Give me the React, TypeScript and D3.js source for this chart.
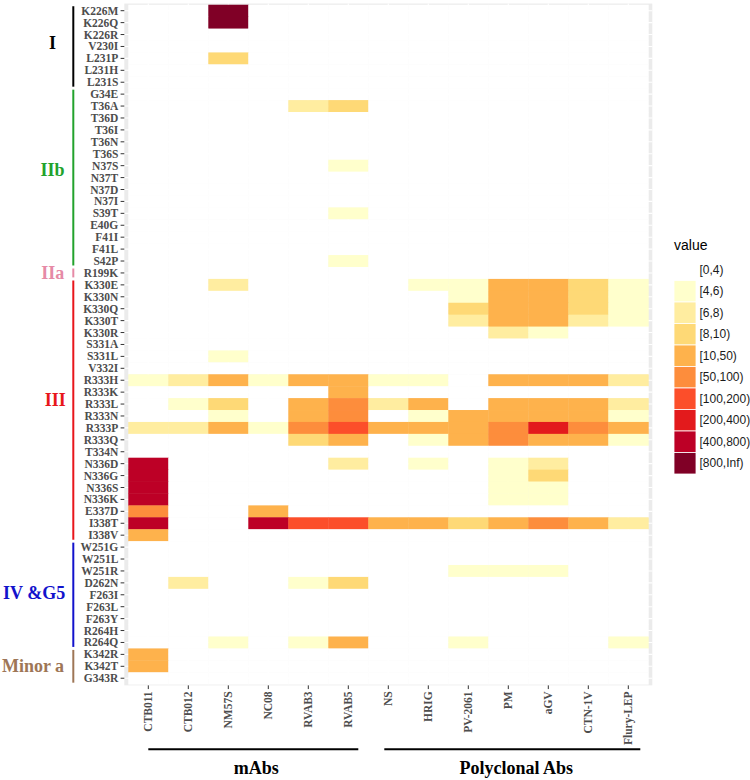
import React from 'react';
import * as d3 from 'd3';

// ---------- DATA ----------
const rows = [
  'K226M','K226Q','K226R','V230I','L231P','L231H','L231S',
  'G34E','T36A','T36D','T36I','T36N','T36S','N37S','N37T','N37D','N37I','S39T','E40G','F41I','F41L','S42P',
  'R199K',
  'K330E','K330N','K330Q','K330T','K330R','S331A','S331L','V332I','R333H','R333K','R333L','R333N','R333P','R333Q','T334N','N336D','N336G','N336S','N336K','E337D','I338T','I338V',
  'W251G','W251L','W251R','D262N','F263I','F263L','F263Y','R264H','R264Q',
  'K342R','K342T','G343R',
];

const columns = ['CTB011','CTB012','NM57S','NC08','RVAB3','RVAB5','NS','HRIG','PV-2061','PM','aGV','CTN-1V','Flury-LEP'];

const groupNames = ['I','IIb','IIa','III','IV &G5','Minor a'];
const groupSizes = [7, 15, 1, 22, 9, 3];

const columnGroupNames = ['mAbs','Polyclonal Abs'];

// legend bins
const binThresholds = [4, 6, 8, 10, 50, 100, 200, 400, 800];
const binLabels = ['[0,4)','[4,6)','[6,8)','[8,10)','[10,50)','[50,100)','[100,200)','[200,400)','[400,800)','[800,Inf)'];

// non-trivial cells (everything else is in [0,4))
const cells: [string, string, number][] = [
  ['K226M','NM57S',1000],['K226Q','NM57S',1000],['L231P','NM57S',9],
  ['T36A','RVAB3',7],['T36A','RVAB5',9],['N37S','RVAB5',5],['S39T','RVAB5',5],['S42P','RVAB5',5],
  ['K330E','NM57S',7],['K330E','HRIG',5],['K330E','PV-2061',5],['K330E','PM',25],['K330E','aGV',25],['K330E','CTN-1V',9],['K330E','Flury-LEP',5],
  ['K330N','PV-2061',5],['K330N','PM',25],['K330N','aGV',25],['K330N','CTN-1V',9],['K330N','Flury-LEP',5],
  ['K330Q','PV-2061',9],['K330Q','PM',25],['K330Q','aGV',25],['K330Q','CTN-1V',9],['K330Q','Flury-LEP',5],
  ['K330T','PV-2061',7],['K330T','PM',25],['K330T','aGV',25],['K330T','CTN-1V',7],['K330T','Flury-LEP',5],
  ['K330R','PM',7],['K330R','aGV',5],
  ['S331L','NM57S',5],
  ['R333H','CTB011',5],['R333H','CTB012',7],['R333H','NM57S',25],['R333H','NC08',5],['R333H','RVAB3',25],['R333H','RVAB5',25],['R333H','NS',5],['R333H','HRIG',5],['R333H','PM',25],['R333H','aGV',25],['R333H','CTN-1V',25],['R333H','Flury-LEP',7],
  ['R333K','RVAB5',25],
  ['R333L','CTB012',5],['R333L','NM57S',9],['R333L','RVAB3',25],['R333L','RVAB5',75],['R333L','NS',7],['R333L','HRIG',25],['R333L','PM',25],['R333L','aGV',25],['R333L','CTN-1V',25],['R333L','Flury-LEP',7],
  ['R333N','NM57S',5],['R333N','RVAB3',25],['R333N','RVAB5',75],['R333N','HRIG',5],['R333N','PV-2061',25],['R333N','PM',25],['R333N','aGV',25],['R333N','CTN-1V',25],['R333N','Flury-LEP',5],
  ['R333P','CTB011',7],['R333P','CTB012',7],['R333P','NM57S',25],['R333P','NC08',5],['R333P','RVAB3',75],['R333P','RVAB5',150],['R333P','NS',25],['R333P','HRIG',25],['R333P','PV-2061',25],['R333P','PM',75],['R333P','aGV',300],['R333P','CTN-1V',75],['R333P','Flury-LEP',25],
  ['R333Q','RVAB3',9],['R333Q','RVAB5',25],['R333Q','HRIG',5],['R333Q','PV-2061',25],['R333Q','PM',75],['R333Q','aGV',25],['R333Q','CTN-1V',25],['R333Q','Flury-LEP',5],
  ['N336D','CTB011',600],['N336D','RVAB5',7],['N336D','HRIG',5],['N336D','PM',5],['N336D','aGV',7],
  ['N336G','CTB011',600],['N336G','PM',5],['N336G','aGV',9],
  ['N336S','CTB011',600],['N336S','PM',5],['N336S','aGV',5],
  ['N336K','CTB011',600],['N336K','PM',5],['N336K','aGV',5],
  ['E337D','CTB011',75],['E337D','NC08',25],
  ['I338T','CTB011',600],['I338T','NC08',600],['I338T','RVAB3',150],['I338T','RVAB5',150],['I338T','NS',25],['I338T','HRIG',25],['I338T','PV-2061',9],['I338T','PM',25],['I338T','aGV',75],['I338T','CTN-1V',25],['I338T','Flury-LEP',7],
  ['I338V','CTB011',25],
  ['W251R','PV-2061',5],['W251R','PM',5],['W251R','aGV',5],
  ['D262N','CTB012',7],['D262N','RVAB3',5],['D262N','RVAB5',9],
  ['R264Q','NM57S',5],['R264Q','RVAB3',5],['R264Q','RVAB5',25],['R264Q','PV-2061',5],['R264Q','Flury-LEP',5],
  ['K342R','CTB011',25],['K342T','CTB011',25],
];
const belowRangeValue = 1;

// ---------- STYLE ----------
const binColors = ['#FFFFFF','#FFFFCC','#FFEDA0','#FED976','#FEB24C','#FD8D3C','#FC4E2A','#E31A1C','#BD0026','#800026'];
const groupColors = ['#000000','#22A22C','#E68AA6','#E8151B','#1212CC','#9E7656'];
const groupLabelRow = [2.73, 13.36, 22, 32.66, 48.85, 55];
const groupLabelX = [52.5, 52.5, 52.8, 55.3, 34.2, 33];
const columnGroupSpan: [number, number][] = [[1, 6.25], [6.9, 13.3]];
const columnGroupLabelAt = [3.7, 10.2];

const W = 750, H = 780;
const SERIF = '"Liberation Serif", "Times New Roman", serif';
const SANS = '"Liberation Sans", Arial, sans-serif';

export default function App() {
  const colLeft = 128.3, colW = 40;
  const rowTop = 4.74, rowH = 11.92;
  const x = d3.scaleBand<string>().domain(columns).range([colLeft, colLeft + colW * columns.length]);
  const y = d3.scaleBand<string>().domain(rows).range([rowTop, rowTop + rowH * rows.length]);
  const color = d3.scaleThreshold<number, string>().domain(binThresholds).range(binColors);
  const xc = d3.scaleLinear().domain([1, columns.length]).range([x(columns[0])! + colW / 2, x(columns[columns.length - 1])! + colW / 2]);
  const yr = (i: number) => rowTop + rowH * (i + 0.5);

  const lookup = new Map<string, number>();
  cells.forEach(([r, c, v]) => lookup.set(r + '|' + c, v));

  const [px0, px1] = [x.range()[0] - colW * 0.1, x.range()[1] + colW * 0.1];
  const [py0, py1] = [y.range()[0] - rowH * 0.1, y.range()[1] + rowH * 0.1];

  // groups
  let start = 0;
  const groups = groupNames.map((name, i) => {
    const g = { name, start, end: start + groupSizes[i] - 1, color: groupColors[i], i };
    start += groupSizes[i];
    return g;
  });

  const legendX = 674, legendTop = 259, keyW = 22, keyH = 21.5;

  return (
    <svg width={W} height={H} style={{ position: 'absolute', left: 0, top: 0, background: '#fff' }}>
      <rect x={0} y={0} width={W} height={H} fill="#fff" />
      {/* panel */}
      <rect x={px0} y={py0} width={px1 - px0} height={py1 - py0} fill="#EBEBEB" />
      {columns.map(c => (
        <line key={'gx' + c} x1={x(c)! + colW / 2} x2={x(c)! + colW / 2} y1={py0} y2={py1} stroke="#fff" strokeWidth={1.1} />
      ))}
      {rows.map(r => (
        <line key={'gy' + r} x1={px0} x2={px1} y1={y(r)! + rowH / 2} y2={y(r)! + rowH / 2} stroke="#fff" strokeWidth={1.1} />
      ))}
      {/* tiles */}
      {rows.map(r => columns.map(c => {
        const v = lookup.get(r + '|' + c) ?? belowRangeValue;
        return (
          <rect key={r + c} x={x(c)!} y={y(r)!} width={colW + 0.4} height={rowH + 0.4} fill={color(v)} />
        );
      }))}
      {/* y axis */}
      {rows.map(r => (
        <g key={'yl' + r}>
          <line x1={px0 - 3.7} x2={px0} y1={y(r)! + rowH / 2} y2={y(r)! + rowH / 2} stroke="#333" strokeWidth={1} />
          <text x={px0 - 6} y={y(r)! + rowH / 2} textAnchor="end" dominantBaseline="central"
            fontFamily={SERIF} fontWeight="bold" fontSize={11.5} fill="#4D4D4D">{r}</text>
        </g>
      ))}
      {/* x axis */}
      {columns.map(c => {
        const cx = x(c)! + colW / 2;
        return (
          <g key={'xl' + c}>
            <line x1={cx} x2={cx} y1={py1} y2={py1 + 3.7} stroke="#333" strokeWidth={1} />
            <text transform={`translate(${cx},${py1 + 6}) rotate(-90)`} textAnchor="end" dominantBaseline="central"
              fontFamily={SERIF} fontWeight="bold" fontSize={11.5} fill="#4D4D4D">{c}</text>
          </g>
        );
      })}
      {/* group brackets (rows) */}
      {groups.map(g => (
        <g key={'grp' + g.name}>
          <line x1={73.3} x2={73.3} y1={y(rows[g.start])! + 1.5} y2={y(rows[g.end])! + rowH - 1.5} stroke={g.color} strokeWidth={2} />
          <text x={groupLabelX[g.i]} y={yr(groupLabelRow[g.i])} textAnchor="middle" dominantBaseline="central"
            fontFamily={SERIF} fontWeight="bold" fontSize={18} fill={g.color}>{g.name}</text>
        </g>
      ))}
      {/* column group brackets */}
      {columnGroupNames.map((n, i) => (
        <g key={'cg' + n}>
          <line x1={xc(columnGroupSpan[i][0])} x2={xc(columnGroupSpan[i][1])} y1={749.3} y2={749.3} stroke="#000" strokeWidth={2} />
          <text x={xc(columnGroupLabelAt[i])} y={768} textAnchor="middle" dominantBaseline="central"
            fontFamily={SERIF} fontWeight="bold" fontSize={18} fill="#000">{n}</text>
        </g>
      ))}
      {/* legend */}
      <text x={legendX} y={245} dominantBaseline="central" fontFamily={SANS} fontSize={14} fill="#000">value</text>
      {binLabels.map((l, i) => (
        <g key={'lg' + l}>
          <rect x={legendX} y={legendTop + i * keyH} width={keyW} height={keyH} fill={binColors[i]} stroke="#fff" strokeWidth={0.8} />
          <text x={legendX + keyW + 3.5} y={legendTop + i * keyH + keyH / 2} dominantBaseline="central"
            fontFamily={SANS} fontSize={12} fill="#1a1a1a">{l}</text>
        </g>
      ))}
    </svg>
  );
}
